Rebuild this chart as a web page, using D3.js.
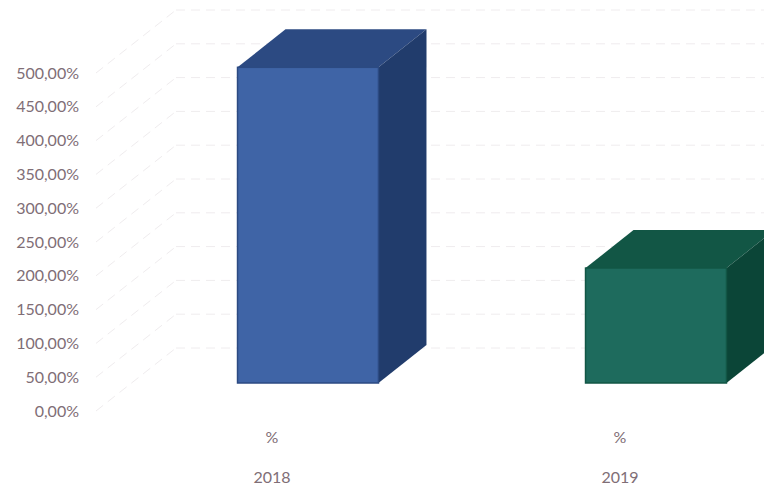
<!DOCTYPE html>
<html>
<head>
<meta charset="utf-8">
<script src="https://cdn.jsdelivr.net/npm/d3@7"></script>
<style>
  html, body { margin: 0; padding: 0; background: #fff; }
  svg { display: block; }
</style>
</head>
<body>
<div class="chart"></div>
<script>
// data
var categories = ["2018", "2019"];
var subLabels = ["%", "%"];
var values = [467, 170];
var yMax = 500;

var w = 764, h = 486;

var frontColors = ["#3f64a6", "#1e6b5d"];
var topColors = ["#2c4a82", "#125645"];
var sideColors = ["#213c6c", "#0b4537"];

var svg = d3.select(".chart").append("svg")
  .attr("width", w)
  .attr("height", h);

// front plane of the floor
var y = d3.scaleLinear().domain([0, yMax]).range([411, 73]);
var x = d3.scaleBand().domain(categories).range([98, 794]);

// depth offsets (oblique 3d)
var wallDx = 80, wallDy = -63;
var barFront = {dx: 36, dy: -28};
var barBack = {dx: 84, dy: -66};
var barW = x.step() * 0.405;
var sideX = 96;

var loc = d3.formatLocale({decimal: ",", thousands: ".", grouping: [3], currency: ["", ""]});
var fmt = loc.format(".2f");

var ticks = y.ticks(10);

// faint gridlines: side wall diagonals + back wall
var grid = svg.append("g").attr("stroke", "#efecee").attr("stroke-width", 1)
  .attr("stroke-dasharray", "9 6").attr("fill", "none");

grid.selectAll(".side")
  .data(ticks)
  .enter()
  .append("line")
  .attr("class", "side")
  .attr("x1", sideX)
  .attr("y1", function(d){ return y(d); })
  .attr("x2", sideX + wallDx)
  .attr("y2", function(d){ return y(d) + wallDy; });

grid.selectAll(".back")
  .data(ticks)
  .enter()
  .append("line")
  .attr("class", "back")
  .attr("x1", sideX + wallDx)
  .attr("y1", function(d){ return y(d) + wallDy; })
  .attr("x2", w)
  .attr("y2", function(d){ return y(d) + wallDy; });

// y labels
svg.append("g").selectAll("text")
  .data(ticks)
  .enter()
  .append("text")
  .attr("x", 79)
  .attr("y", function(d){ return y(d); })
  .attr("dy", "0.35em")
  .attr("text-anchor", "end")
  .attr("font-family", "Lato, 'Open Sans', sans-serif")
  .attr("font-size", 16)
  .attr("fill", "#806e76")
  .text(function(d){ return fmt(d) + "%"; });

// bars
var bars = svg.append("g").selectAll("g")
  .data(categories)
  .enter()
  .append("g");

function cx(c){ return x(c) + x.bandwidth() / 2; }

bars.append("polygon")
  .attr("fill", function(d, i){ return topColors[i]; })
  .attr("points", function(d, i){
    var l = cx(d) - barW / 2, r = cx(d) + barW / 2, t = y(values[i]);
    return [
      [l + barFront.dx, t + barFront.dy],
      [r + barFront.dx, t + barFront.dy],
      [r + barBack.dx, t + barBack.dy],
      [l + barBack.dx, t + barBack.dy]
    ].join(" ");
  });

bars.append("polygon")
  .attr("fill", function(d, i){ return sideColors[i]; })
  .attr("points", function(d, i){
    var r = cx(d) + barW / 2, t = y(values[i]), b = y(0);
    return [
      [r + barFront.dx, t + barFront.dy],
      [r + barBack.dx, t + barBack.dy],
      [r + barBack.dx, b + barBack.dy],
      [r + barFront.dx, b + barFront.dy]
    ].join(" ");
  });

bars.append("rect")
  .attr("fill", function(d, i){ return frontColors[i]; })
  .attr("stroke", function(d, i){ return topColors[i]; })
  .attr("stroke-width", 1.5)
  .attr("x", function(d){ return cx(d) - barW / 2 + barFront.dx; })
  .attr("y", function(d, i){ return y(values[i]) + barFront.dy; })
  .attr("width", barW)
  .attr("height", function(d, i){ return y(0) - y(values[i]); });

// category labels
var cat = svg.append("g")
  .attr("font-family", "Lato, 'Open Sans', sans-serif")
  .attr("font-size", 16)
  .attr("fill", "#806e76")
  .attr("text-anchor", "middle");

cat.selectAll(".sub")
  .data(categories)
  .enter()
  .append("text")
  .attr("class", "sub")
  .attr("x", function(d){ return cx(d); })
  .attr("y", 437)
  .attr("dy", "0.35em")
  .text(function(d, i){ return subLabels[i]; });

cat.selectAll(".year")
  .data(categories)
  .enter()
  .append("text")
  .attr("class", "year")
  .attr("x", function(d){ return cx(d); })
  .attr("y", 477)
  .attr("dy", "0.35em")
  .text(function(d){ return d; });
</script>
</body>
</html>
